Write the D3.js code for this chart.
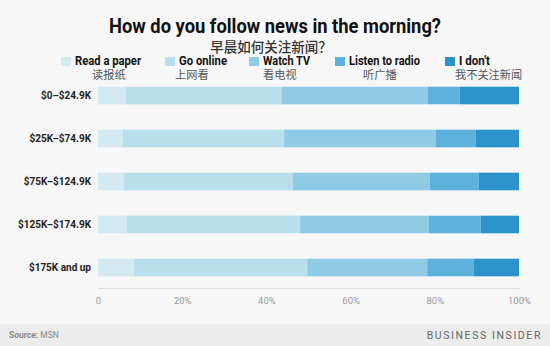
<!DOCTYPE html>
<html>
<head>
<meta charset="utf-8">
<script src="https://cdn.jsdelivr.net/npm/d3@7"></script>
<style>
  html, body { margin: 0; padding: 0; background: #f7f7f7; }
  svg { display: block; }
</style>
</head>
<body>
<svg id="chart" width="550" height="346"></svg>
<script>
// Income brackets (top to bottom)
const categories = ["$0–$24.9K", "$25K–$74.9K", "$75K–$124.9K", "$125K–$174.9K", "$175K and up"];

// Share of respondents (%) per habit, one value per income bracket
const readPaper    = [6.6, 5.9, 6.2, 6.8, 8.6];
const goOnline     = [37.1, 38.3, 40.1, 41.2, 41.1];
const watchTV      = [34.6, 36.0, 32.5, 30.6, 28.5];
const listenRadio  = [7.6, 9.5, 11.6, 12.3, 11.1];
const dontFollow   = [14.1, 10.3, 9.6, 9.1, 10.7];

const seriesNames   = ["Read a paper", "Go online", "Watch TV", "Listen to radio", "I don't"];
const seriesNamesZh = ["读报纸", "上网看", "看电视", "听广播", "我不关注新闻"];
const tickValues    = [0, 20, 40, 60, 80, 100];
const tickLabels    = ["0", "20%", "40%", "60%", "80%", "100%"];

const colors = ["#d4eaf3", "#b8dfee", "#8fcbe5", "#5db1dc", "#2a93c9"];

const seriesValues = [readPaper, goOnline, watchTV, listenRadio, dontFollow];
const keys = seriesNames;
const rows = categories.map((c, i) => {
  const r = { category: c };
  keys.forEach((k, j) => { r[k] = seriesValues[j][i]; });
  return r;
});

const svg = d3.select("#chart");
const font = "Roboto, 'Noto Sans', sans-serif";
const fontZh = "'Noto Sans CJK SC', sans-serif";

// background and footer band
svg.append("rect").attr("width", 550).attr("height", 346).attr("fill", "#f7f7f7");
svg.append("rect").attr("x", 0).attr("y", 324).attr("width", 550).attr("height", 22).attr("fill", "#ececec");

// titles
svg.append("text")
  .attr("x", 275).attr("y", 33)
  .attr("text-anchor", "middle")
  .attr("font-family", font).attr("font-weight", 700).attr("font-size", 19.5)
  .attr("fill", "#111")
  .attr("textLength", 332).attr("lengthAdjust", "spacingAndGlyphs")
  .text("How do you follow news in the morning?");
svg.append("text")
  .attr("x", 271).attr("y", 51.5)
  .attr("text-anchor", "middle")
  .attr("font-family", fontZh).attr("font-weight", 500).attr("font-size", 13.5)
  .attr("fill", "#333")
  .text("早晨如何关注新闻？");

// scales
const x = d3.scaleLinear().domain([0, 100]).range([98, 519]);
const y = d3.scaleBand().domain(categories).range([74, 289]).paddingInner(0.59).paddingOuter(0.295);
const color = d3.scaleOrdinal().domain(keys).range(colors);

const stacked = d3.stack().keys(keys)(rows);

// bars
svg.append("g").selectAll("g")
  .data(stacked)
  .join("g")
  .attr("fill", d => color(d.key))
  .selectAll("rect")
  .data(d => d)
  .join("rect")
  .attr("x", d => x(d[0]))
  .attr("y", d => y(d.data.category))
  .attr("width", d => x(d[1]) - x(d[0]))
  .attr("height", y.bandwidth());

// category labels
svg.append("g").selectAll("text")
  .data(categories)
  .join("text")
  .attr("x", 91)
  .attr("y", d => y(d) + y.bandwidth() / 2 + 3.8)
  .attr("text-anchor", "end")
  .attr("font-family", font).attr("font-weight", 700).attr("font-size", 10)
  .attr("fill", "#222")
  .text(d => d);

// x axis
const xAxis = d3.axisBottom(x)
  .tickValues(tickValues)
  .tickSize(0)
  .tickPadding(9)
  .tickFormat((d, i) => tickLabels[i]);
const ax = svg.append("g").attr("transform", "translate(0,288)").call(xAxis);
ax.select(".domain").attr("stroke", "#dcdcdc").attr("stroke-width", 1.2);
ax.selectAll("text")
  .attr("font-family", font).attr("font-size", 9.5).attr("fill", "#999");

// legend
const legendX   = [61, 165, 249, 335, 445];
const legendZhX = [92, 175, 263, 363, 455];
const legendW   = [66, 48, 47, 71, 31];
const lg = svg.append("g");
keys.forEach((k, i) => {
  lg.append("rect")
    .attr("x", legendX[i]).attr("y", 57)
    .attr("width", 10).attr("height", 9)
    .attr("fill", color(k));
  lg.append("text")
    .attr("x", legendX[i] + 14).attr("y", 65.2)
    .attr("font-family", font).attr("font-weight", 700).attr("font-size", 12)
    .attr("fill", "#111")
    .attr("textLength", legendW[i]).attr("lengthAdjust", "spacingAndGlyphs")
    .text(k);
  lg.append("text")
    .attr("x", legendZhX[i]).attr("y", 79)
    .attr("font-family", fontZh).attr("font-size", 11.2)
    .attr("fill", "#555")
    .text(seriesNamesZh[i]);
});

// footer
const src = svg.append("text")
  .attr("x", 9).attr("y", 338)
  .attr("font-family", font).attr("font-size", 8.5).attr("fill", "#888");
src.append("tspan").attr("font-weight", 700).text("Source: ");
src.append("tspan").text("MSN");

svg.append("text")
  .attr("x", 542).attr("y", 339)
  .attr("text-anchor", "end")
  .attr("font-family", font).attr("font-size", 10.5).attr("fill", "#666")
  .attr("letter-spacing", 1.6)
  .text("BUSINESS INSIDER");
</script>
</body>
</html>
